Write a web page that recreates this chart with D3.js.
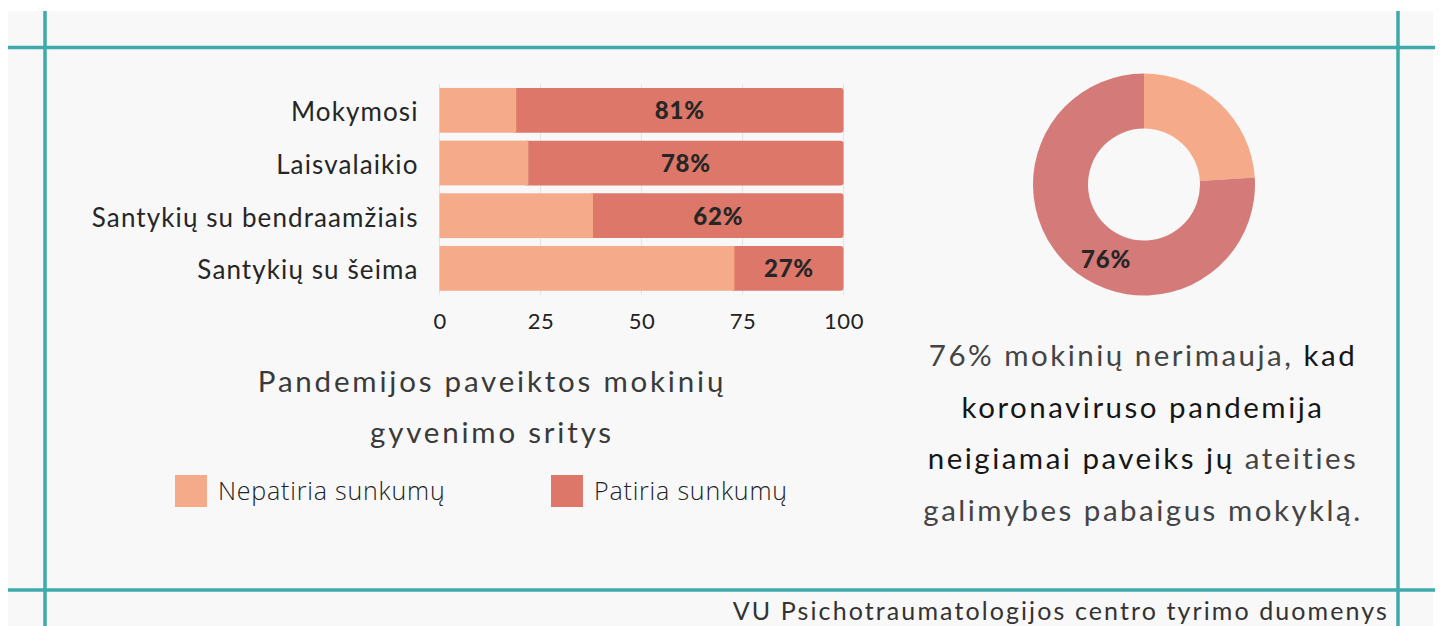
<!DOCTYPE html>
<html>
<head>
<meta charset="utf-8">
<script src="https://cdn.jsdelivr.net/npm/d3@7"></script>
<style>
  body { margin: 0; background: #fff; }
  svg { display: block; font-family: Lato, "Open Sans", sans-serif; }
</style>
</head>
<body>
<div id="svgOutput"></div>
<script>
// Data

const categories = ["Mokymosi", "Laisvalaikio", "Santykių su bendraamžiais", "Santykių su šeima"];
const nepatiria = [19, 22, 38, 73];
const patiria = [81, 78, 62, 27];
const seriesNames = ["Nepatiria sunkumų", "Patiria sunkumų"];
const xTicks = [0, 25, 50, 75, 100];

const donutNames = ["Nenerimauja", "Nerimauja"];
const donutValues = [24, 76];

const titleLines = ["Pandemijos paveiktos mokinių", "gyvenimo sritys"];
const noteLines = [
  [["76% mokinių nerimauja, ", false], ["kad", true]],
  [["koronaviruso pandemija", true]],
  [["neigiamai paveiks jų ", true], ["ateities", false]],
  [["galimybes pabaigus mokyklą.", false]]
];
const source = "VU Psichotraumatologijos centro tyrimo duomenys";

(function () {
  document.addEventListener('DOMContentLoaded', function () {

    // Config

    const width = 1442;
    const height = 626;
    const teal = "#3eaaab";
    const colors = ["#f5aa89", "#dc7769"];
    const donutColors = ["#f5aa89", "#d47a79"];

    const svg = d3.select("#svgOutput")
      .append("svg")
      .attr("width", width)
      .attr("height", height)
      .attr("viewBox", [0, 0, width, height]);

    // Frame

    svg.append("rect")
      .attr("x", 8).attr("y", 11)
      .attr("width", 1425).attr("height", height - 11)
      .attr("fill", "#f8f8f8");

    const frame = svg.append("g").attr("stroke", teal).attr("stroke-width", 3.5);
    frame.append("line").attr("x1", 8).attr("x2", 1435).attr("y1", 47.5).attr("y2", 47.5);
    frame.append("line").attr("x1", 8).attr("x2", 1435).attr("y1", 590).attr("y2", 590);
    frame.append("line").attr("x1", 45).attr("x2", 45).attr("y1", 11).attr("y2", height);
    frame.append("line").attr("x1", 1398).attr("x2", 1398).attr("y1", 11).attr("y2", height);

    // Scales for the bar chart

    const xScale = d3.scaleLinear()
      .domain([0, 100])
      .range([439.5, 843.5]);

    const yScale = d3.scaleBand()
      .domain(categories)
      .range([84, 294.7])
      .paddingInner(0.15)
      .paddingOuter(0.075);

    // Grid lines

    svg.append("g")
      .selectAll("line")
      .data(xTicks)
      .join("line")
      .attr("x1", d => xScale(d)).attr("x2", d => xScale(d))
      .attr("y1", yScale.range()[0]).attr("y2", yScale.range()[1])
      .attr("stroke", "#e3e3e3");

    // Bars

    const rows = categories.map((c, i) => ({ cat: c, a: nepatiria[i], b: patiria[i] }));

    const bars = svg.append("g")
      .selectAll("g")
      .data(rows)
      .join("g");

    bars.append("rect")
      .attr("x", d => xScale(d.a) - 4)
      .attr("y", d => yScale(d.cat))
      .attr("width", d => xScale(100) - xScale(d.a) + 4)
      .attr("height", yScale.bandwidth())
      .attr("rx", 3)
      .attr("fill", colors[1]);

    bars.append("rect")
      .attr("x", xScale(0))
      .attr("y", d => yScale(d.cat))
      .attr("width", d => xScale(d.a) - xScale(0))
      .attr("height", yScale.bandwidth())
      .attr("fill", colors[0]);

    bars.append("text")
      .attr("x", d => (xScale(d.a) + xScale(100)) / 2)
      .attr("y", d => yScale(d.cat) + yScale.bandwidth() / 2)
      .attr("dy", "0.37em")
      .attr("text-anchor", "middle")
      .attr("font-size", 24)
      .attr("font-weight", 900)
      .attr("letter-spacing", 0.8)
      .attr("fill", "#262626")
      .text(d => d.b + "%");

    // Axes

    const xAxis = d3.axisBottom(xScale).tickValues(xTicks).tickSize(0).tickPadding(19);
    const gx = svg.append("g")
      .attr("transform", "translate(0," + yScale.range()[1] + ")")
      .call(xAxis);
    gx.select(".domain").remove();
    gx.selectAll(".tick text")
      .attr("font-family", "Lato")
      .attr("font-size", 22)
      .attr("letter-spacing", 0.5)
      .attr("fill", "#222");

    const yAxis = d3.axisLeft(yScale).tickSize(0).tickPadding(21);
    const gy = svg.append("g")
      .attr("transform", "translate(" + xScale(0) + ",0)")
      .call(yAxis);
    gy.select(".domain").remove();
    gy.selectAll(".tick text")
      .attr("font-family", "Lato")
      .attr("font-size", 26)
      .attr("letter-spacing", 1.1)
      .attr("dy", "0.42em")
      .attr("fill", "#262626");

    // Title

    svg.append("text")
      .attr("x", 492)
      .attr("text-anchor", "middle")
      .attr("font-size", 29.5)
      .attr("letter-spacing", 2.8)
      .attr("fill", "#3a3a3a")
      .selectAll("tspan")
      .data(titleLines)
      .join("tspan")
      .attr("x", 492)
      .attr("y", (d, i) => 392 + i * 51)
      .text(d => d);

    // Legend

    const legend = svg.append("g")
      .selectAll("g")
      .data(seriesNames)
      .join("g")
      .attr("transform", (d, i) => "translate(" + (175 + i * 376) + ",475)");

    legend.append("rect")
      .attr("width", 32).attr("height", 32)
      .attr("fill", (d, i) => colors[i]);

    legend.append("text")
      .attr("x", 43).attr("y", 16)
      .attr("dy", "0.36em")
      .attr("font-family", "Open Sans")
      .attr("font-weight", 300)
      .attr("font-size", 25)
      .attr("letter-spacing", 0.8)
      .attr("fill", "#222")
      .text(d => d);

    // Donut

    const cx = 1144, cy = 184.5, rOuter = 111, rInner = 56;
    const pie = d3.pie().sort(null)(donutValues);
    const arc = d3.arc().innerRadius(rInner).outerRadius(rOuter);

    const donut = svg.append("g").attr("transform", "translate(" + cx + "," + cy + ")");

    donut.selectAll("path")
      .data(pie)
      .join("path")
      .attr("d", arc)
      .attr("fill", (d, i) => donutColors[i]);

    // label sits a bit before the middle of the slice
    const labelArc = d3.arc().innerRadius(84).outerRadius(84);
    const big = pie[1];
    const labelAngle = big.startAngle + (big.endAngle - big.startAngle) * 0.44;
    const lp = labelArc.centroid({ startAngle: labelAngle, endAngle: labelAngle });

    donut.append("text")
      .attr("x", lp[0]).attr("y", lp[1])
      .attr("dy", "0.36em")
      .attr("text-anchor", "middle")
      .attr("font-size", 24)
      .attr("font-weight", 900)
      .attr("letter-spacing", 0.8)
      .attr("fill", "#262626")
      .text(donutValues[1] + "%");

    // Note text

    const note = svg.append("text")
      .attr("text-anchor", "middle")
      .attr("font-size", 29.5)
      .attr("letter-spacing", 2.5);

    noteLines.forEach((line, i) => {
      const row = note.append("tspan")
        .attr("x", 1143)
        .attr("y", 366 + i * 51.7);
      line.forEach((part, j) => {
        const t = j === 0 ? row : note.append("tspan");
        t.attr("fill", part[1] ? "#161616" : "#444").text(part[0]);
      });
    });

    // Source

    svg.append("text")
      .attr("x", 1389).attr("y", 620)
      .attr("text-anchor", "end")
      .attr("font-size", 25)
      .attr("letter-spacing", 2.1)
      .attr("fill", "#333")
      .text(source);

  });
})();
</script>
</body>
</html>
